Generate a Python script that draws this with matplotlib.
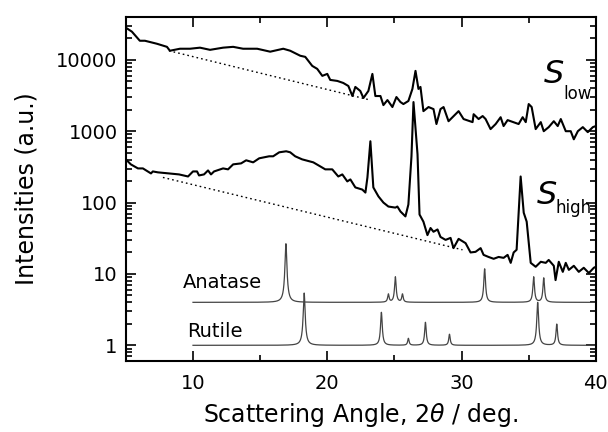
import numpy as np
import matplotlib.pyplot as plt

plt.rcParams['font.family'] = ['DejaVu Sans']

# S_low scattering profile
low_x = [5.00, 5.45, 6.04, 6.42, 7.31, 8.06, 8.28, 9.03, 9.78, 10.52, 11.27, 12.24,
         12.99, 13.73, 14.78, 15.75, 16.72, 17.24, 17.99, 18.36, 18.88, 19.25, 19.63,
         20.00, 20.22, 20.75, 21.19, 21.57, 21.87, 22.09, 22.46, 22.69, 23.06, 23.36,
         23.58, 23.96, 24.18, 24.48, 24.85, 25.15, 25.45, 25.67, 26.04, 26.34, 26.57,
         26.79, 26.94, 27.16, 27.54, 27.91, 28.13, 28.43, 28.66, 29.03, 29.78, 30.15,
         30.82, 30.90, 31.27, 31.57, 31.79, 32.16, 32.54, 32.91, 33.13, 33.43, 34.25,
         34.55, 34.78, 35.00, 35.22, 35.52, 35.90, 36.12, 36.49, 36.87, 37.16, 37.39,
         37.76, 38.13, 38.36, 38.66, 39.03, 39.40, 39.78, 40.00]
low_y = [28200, 24800, 18500, 18500, 16800, 15200, 13400, 14300, 14300, 14800, 13800, 14800,
         15200, 14300, 14300, 13000, 14300, 13400, 11400, 11000, 8220, 7470, 5960,
         6350, 5230, 5060, 4740, 4300, 3110, 4170, 3660, 2920, 3660, 6350,
         3110, 3110, 2320, 2730, 2180, 3010, 2560, 2400, 2650, 3910, 7000,
         3910, 4170, 1910, 2180, 2040, 1260, 2040, 2180, 1380, 1910, 1480,
         1340, 1730, 1480, 1630, 1480, 1070, 1260, 1570, 1180, 1430, 1260,
         1570, 1340, 2400, 2180, 1070, 1340, 1000, 1140, 1380, 1180, 1480,
         1000, 1000, 770, 1000, 1140, 970, 1140, 1180]

# S_high scattering profile
high_x = [5.00, 5.37, 5.90, 6.27, 6.87, 7.01, 7.39, 8.21, 8.96, 9.63, 10.00, 10.30,
          10.45, 10.82, 11.12, 11.34, 11.57, 12.24, 12.61, 12.99, 13.58, 13.96, 14.48,
          14.93, 15.67, 15.97, 16.42, 16.94, 17.24, 17.61, 18.13, 18.96, 19.48, 19.85,
          20.37, 20.82, 21.12, 21.49, 21.72, 22.09, 22.61, 22.84, 22.99, 23.21, 23.43,
          23.81, 24.18, 24.55, 25.07, 25.22, 25.45, 25.82, 26.04, 26.27, 26.42, 26.72,
          26.87, 27.16, 27.46, 27.69, 27.91, 28.21, 28.43, 28.81, 29.18, 29.40, 29.78,
          30.30, 30.67, 31.04, 31.42, 31.64, 32.01, 32.39, 32.76, 33.13, 33.43, 33.66,
          33.88, 34.10, 34.40, 34.63, 34.85, 35.15, 35.52, 35.90, 36.27, 36.49, 36.87,
          37.00, 37.24, 37.54, 37.76, 37.99, 38.36, 38.73, 39.10, 39.48, 39.85, 40.00]
high_y = [403, 343, 301, 301, 256, 273, 265, 256, 248, 232, 273, 273,
          240, 248, 282, 248, 273, 301, 292, 343, 354, 391, 366,
          417, 445, 445, 506, 523, 506, 445, 403, 366, 321, 292,
          292, 232, 248, 198, 211, 163, 152, 138, 225, 723, 163,
          122, 100, 88, 85, 88, 75, 64, 94, 445, 2560, 475,
          68, 54, 35, 44, 39, 42, 33, 30, 32, 23, 31,
          27, 20, 20.4, 23, 18.5, 17.3, 16.3, 17.3, 16.8, 18.5, 14.3,
          20, 21.8, 232, 72, 54, 14.3, 12.6, 14.8, 14.3, 15.7, 13,
          8.2, 14.8, 10.7, 14.3, 11.4, 13, 10.7, 12.2, 10.3, 12.2, 12.6]

# dotted background lines (end points)
low_bg_x = [8.21, 23.21]
low_bg_y = [13400, 2730]
high_bg_x = [7.76, 30.07]
high_bg_y = [225, 21.8]

# reference patterns: baseline, peak positions and peak tops
anatase_base = 4.0
anatase_pos = [16.92, 24.55, 25.07, 25.60, 31.72, 35.37, 36.12]
anatase_top = [26.5, 5.2, 9.1, 5.2, 11.8, 9.1, 8.8]
rutile_base = 1.0
rutile_pos = [18.28, 24.03, 26.04, 27.31, 29.10, 35.67, 37.09]
rutile_top = [5.4, 2.9, 1.25, 2.1, 1.43, 4.0, 1.98]


def pattern(x, base, pos, top, w=0.06):
    y = np.full_like(x, base)
    for p, t in zip(pos, top):
        y += (t - base) * w**2 / ((x - p)**2 + w**2)
    return y


fig = plt.figure(figsize=(6.08, 4.32), dpi=100)
ax = fig.add_axes([0.207, 0.164, 0.773, 0.797])

ax.plot(low_x, low_y, color='black', lw=1.5)
ax.plot(high_x, high_y, color='black', lw=1.5)
ax.plot(low_bg_x, low_bg_y, color='black', lw=1.0, linestyle=(0, (1.2, 2.2)))
ax.plot(high_bg_x, high_bg_y, color='black', lw=1.0, linestyle=(0, (1.2, 2.2)))

xr = np.linspace(10, 40, 3001)
ax.plot(xr, pattern(xr, anatase_base, anatase_pos, anatase_top), color='#444444', lw=0.9)
ax.plot(xr, pattern(xr, rutile_base, rutile_pos, rutile_top), color='#444444', lw=0.9)

ax.text(9.25, 6.35, 'Anatase', fontsize=14, ha='left', va='baseline')
ax.text(9.55, 1.30, 'Rutile', fontsize=14, ha='left', va='baseline')

ax.text(36.87, 6150, 'S', fontsize=23, style='italic', ha='center', va='center')
ax.text(37.55, 2825, 'low', fontsize=12, ha='left', va='baseline')
ax.text(36.34, 125, 'S', fontsize=23, style='italic', ha='center', va='center')
ax.text(37.0, 72, 'high', fontsize=12, ha='left', va='baseline')

ax.set_yscale('log')
ax.set_xlim(5, 40)
ax.set_ylim(0.6, 4.0e4)
ax.set_xticks([10, 20, 30, 40])
ax.set_xticks([5, 15, 25, 35], minor=True)
ax.set_yticks([1, 10, 100, 1000, 10000])
ax.set_yticklabels(['1', '10', '100', '1000', '10000'])

ax.tick_params(which='both', direction='in', top=True, right=True, width=1.2,
               labelsize=14)
ax.tick_params(which='major', length=7)
ax.tick_params(which='minor', length=4)
ax.tick_params(axis='x', pad=9)
ax.tick_params(axis='y', pad=6)
for s in ax.spines.values():
    s.set_linewidth(1.5)

ax.set_xlabel(r'Scattering Angle, 2$\theta$ / deg.', fontsize=17, labelpad=6)
ax.set_ylabel('Intensities (a.u.)', fontsize=17, labelpad=13)

fig.savefig('out.png', dpi=100)
